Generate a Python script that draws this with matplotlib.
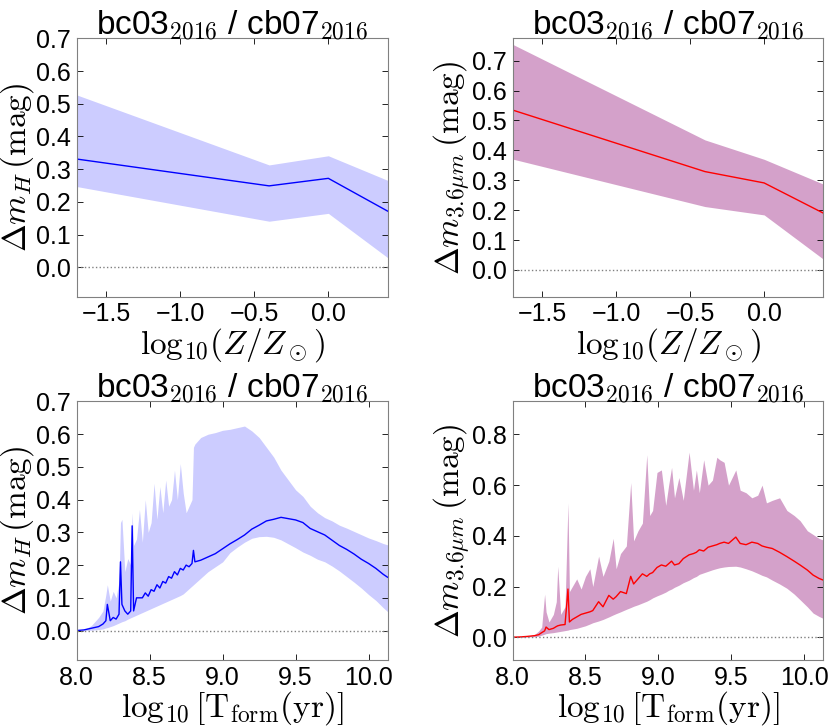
import matplotlib
matplotlib.use("Agg")
import matplotlib.pyplot as plt
from matplotlib.ticker import FuncFormatter
import numpy as np

plt.rcParams['font.family'] = ['Liberation Sans', 'DejaVu Sans']
plt.rcParams['mathtext.fontset'] = 'cm'

# metallicity panels
logz = [-1.7, -0.4, 0.0, 0.4]
h_med = [0.331, 0.249, 0.272, 0.172]
h_hi = [0.527, 0.313, 0.341, 0.266]
h_lo = [0.247, 0.141, 0.165, 0.030]
i1_med = [0.535, 0.329, 0.291, 0.190]
i1_hi = [0.755, 0.435, 0.370, 0.287]
i1_lo = [0.371, 0.212, 0.184, 0.036]

# formation-time panel, H band
t_h = [8.00, 8.05, 8.10, 8.15, 8.18, 8.20, 8.21, 8.23, 8.25, 8.27, 8.29, 8.30,
       8.31, 8.33, 8.35, 8.37, 8.38, 8.39, 8.41, 8.43, 8.45, 8.47, 8.49, 8.51,
       8.53, 8.55, 8.57, 8.59, 8.61, 8.63, 8.65, 8.67, 8.69, 8.71, 8.73, 8.75,
       8.77, 8.79, 8.80, 8.81, 8.85, 8.90, 8.95, 9.00, 9.05, 9.10, 9.15, 9.20,
       9.25, 9.30, 9.35, 9.40, 9.45, 9.50, 9.55, 9.60, 9.65, 9.70, 9.75, 9.80,
       9.85, 9.90, 9.95, 10.00, 10.05, 10.10, 10.13]
th_med = [0.0, 0.002, 0.007, 0.012, 0.02, 0.03, 0.08, 0.03, 0.04, 0.035, 0.05, 0.21,
          0.08, 0.06, 0.05, 0.06, 0.32, 0.06, 0.10, 0.10, 0.10, 0.115, 0.105, 0.125,
          0.12, 0.14, 0.13, 0.15, 0.145, 0.165, 0.16, 0.18, 0.17, 0.19, 0.185, 0.20,
          0.195, 0.205, 0.245, 0.21, 0.215, 0.225, 0.235, 0.25, 0.265, 0.278, 0.292, 0.31,
          0.322, 0.335, 0.34, 0.346, 0.342, 0.338, 0.33, 0.312, 0.302, 0.292, 0.276, 0.26,
          0.248, 0.234, 0.218, 0.205, 0.19, 0.172, 0.163]
th_hi = [0.0, 0.003, 0.015, 0.04, 0.06, 0.11, 0.14, 0.09, 0.12, 0.10, 0.15, 0.33,
         0.34, 0.18, 0.22, 0.20, 0.36, 0.26, 0.28, 0.37, 0.27, 0.40, 0.30, 0.33,
         0.45, 0.34, 0.44, 0.36, 0.46, 0.38, 0.40, 0.49, 0.40, 0.51, 0.42, 0.36,
         0.38, 0.40, 0.56, 0.57, 0.59, 0.60, 0.605, 0.612, 0.615, 0.62, 0.625, 0.61,
         0.59, 0.56, 0.53, 0.49, 0.46, 0.43, 0.41, 0.38, 0.36, 0.345, 0.335, 0.322,
         0.313, 0.303, 0.293, 0.283, 0.275, 0.266, 0.262]
th_lo = [0.0, 0.0, 0.001, 0.003, 0.005, 0.008, 0.009, 0.012, 0.015, 0.019, 0.023, 0.025,
         0.027, 0.03, 0.035, 0.039, 0.041, 0.043, 0.047, 0.051, 0.055, 0.059, 0.063, 0.067,
         0.071, 0.075, 0.079, 0.083, 0.087, 0.091, 0.095, 0.099, 0.103, 0.107, 0.112, 0.12,
         0.128, 0.136, 0.14, 0.144, 0.16, 0.18, 0.195, 0.21, 0.238, 0.255, 0.27, 0.282,
         0.287, 0.288, 0.285, 0.277, 0.265, 0.253, 0.24, 0.23, 0.218, 0.21, 0.197, 0.182,
         0.165, 0.148, 0.13, 0.11, 0.092, 0.07, 0.058]

# formation-time panel, 3.6 micron
t_i1 = [8.00, 8.05, 8.10, 8.15, 8.18, 8.20, 8.22, 8.23, 8.25, 8.28, 8.30, 8.31,
        8.33, 8.36, 8.38, 8.39, 8.41, 8.44, 8.47, 8.50, 8.53, 8.55, 8.59, 8.62,
        8.66, 8.69, 8.71, 8.74, 8.78, 8.81, 8.83, 8.86, 8.89, 8.92, 8.94, 8.96,
        8.99, 9.02, 9.05, 9.07, 9.09, 9.11, 9.14, 9.17, 9.21, 9.24, 9.26, 9.28,
        9.31, 9.34, 9.37, 9.40, 9.42, 9.45, 9.48, 9.53, 9.56, 9.60, 9.64, 9.68,
        9.71, 9.74, 9.78, 9.83, 9.88, 9.93, 9.97, 10.02, 10.06, 10.10, 10.13]
ti1_med = [0.0, 0.001, 0.003, 0.006, 0.01, 0.018, 0.025, 0.04, 0.03, 0.035, 0.042, 0.045,
           0.048, 0.05, 0.19, 0.06, 0.07, 0.08, 0.09, 0.095, 0.10, 0.105, 0.14, 0.12,
           0.165, 0.15, 0.16, 0.18, 0.172, 0.24, 0.21, 0.23, 0.25, 0.24, 0.25, 0.255,
           0.275, 0.285, 0.28, 0.29, 0.30, 0.285, 0.29, 0.31, 0.325, 0.33, 0.335, 0.345,
           0.34, 0.355, 0.36, 0.365, 0.37, 0.375, 0.37, 0.395, 0.37, 0.365, 0.375, 0.37,
           0.36, 0.355, 0.35, 0.335, 0.318, 0.30, 0.285, 0.265, 0.245, 0.232, 0.225]
ti1_hi = [0.0, 0.002, 0.004, 0.01, 0.025, 0.04, 0.17, 0.10, 0.06, 0.09, 0.14, 0.28,
          0.09, 0.12, 0.53, 0.18, 0.20, 0.23, 0.19, 0.24, 0.27, 0.20, 0.32, 0.24,
          0.30, 0.39, 0.27, 0.33, 0.36, 0.61, 0.38, 0.42, 0.45, 0.72, 0.48, 0.50,
          0.65, 0.66, 0.52, 0.60, 0.67, 0.55, 0.63, 0.54, 0.73, 0.58, 0.66, 0.57,
          0.70, 0.60, 0.62, 0.71, 0.70, 0.69, 0.60, 0.66, 0.58, 0.57, 0.55, 0.56,
          0.60, 0.53, 0.54, 0.55, 0.50, 0.48, 0.46, 0.42, 0.405, 0.39, 0.383]
ti1_lo = [0.0, 0.0, 0.001, 0.002, 0.004, 0.008, 0.012, 0.014, 0.016, 0.018, 0.02, 0.021,
          0.023, 0.026, 0.028, 0.03, 0.032, 0.035, 0.04, 0.045, 0.052, 0.057, 0.064, 0.07,
          0.08, 0.088, 0.093, 0.10, 0.11, 0.117, 0.122, 0.128, 0.135, 0.142, 0.148, 0.155,
          0.163, 0.17, 0.178, 0.185, 0.19, 0.197, 0.205, 0.215, 0.225, 0.235, 0.24, 0.248,
          0.254, 0.26, 0.266, 0.271, 0.274, 0.277, 0.279, 0.28, 0.277, 0.27, 0.262, 0.252,
          0.244, 0.238, 0.225, 0.21, 0.193, 0.17, 0.148, 0.12, 0.095, 0.082, 0.074]

title = r'bc03$_{2016}$ / cb07$_{2016}$'
ylab_h = r'$\Delta m_{H}\,\mathrm{(mag)}$'
ylab_i1 = r'$\Delta m_{3.6\mu m}\,\mathrm{(mag)}$'
xlab_z = r'$\mathrm{log}_{10}(Z/Z_\odot)$'
xlab_t = r'$\mathrm{log}_{10}\,[\mathrm{T_{form}(yr)}]$'

blue_fill = '#ccccff'
purple_fill = '#d4a1ca'

fig, axs = plt.subplots(2, 2, figsize=(8.3, 7.28), dpi=100)
fig.subplots_adjust(left=0.0924, right=0.992, bottom=0.0934, top=0.9474,
                    wspace=0.402, hspace=0.405)

panels = [
    (axs[0, 0], logz, h_med, h_lo, h_hi, 'blue', blue_fill, ylab_h, xlab_z),
    (axs[0, 1], logz, i1_med, i1_lo, i1_hi, 'red', purple_fill, ylab_i1, xlab_z),
    (axs[1, 0], t_h, th_med, th_lo, th_hi, 'blue', blue_fill, ylab_h, xlab_t),
    (axs[1, 1], t_i1, ti1_med, ti1_lo, ti1_hi, 'red', purple_fill, ylab_i1, xlab_t),
]

fmt = FuncFormatter(lambda v, p: f'{v:.1f}'.replace('-', '\u2212'))

for ax, x, med, lo, hi, lc, fc, ylab, xlab in panels:
    ax.fill_between(x, lo, hi, color=fc, lw=0)
    ax.plot(x, med, color=lc, lw=1)
    ax.axhline(0, ls=':', color='gray', lw=1)
    ax.set_title(title, fontsize=24, pad=3)
    ax.set_ylabel(ylab, fontsize=24, labelpad=0)
    ax.set_xlabel(xlab, fontsize=24, labelpad=0)
    ax.tick_params(direction='in', top=True, right=True, labelsize=18, length=4,
                   width=0.6, pad=4)
    for s in ax.spines.values():
        s.set_color('gray')
        s.set_linewidth(0.8)

axs[0, 0].set_xlim(-1.7, 0.4)
axs[0, 0].set_ylim(-0.09, 0.7)
axs[0, 1].set_xlim(-1.7, 0.4)
axs[0, 1].set_ylim(-0.09, 0.775)
axs[1, 0].set_xlim(8.0, 10.13)
axs[1, 0].set_ylim(-0.09, 0.7)
axs[1, 1].set_xlim(8.0, 10.13)
axs[1, 1].set_ylim(-0.09, 0.93)

for ax in axs[0]:
    ax.set_xticks([-1.5, -1.0, -0.5, 0.0])
for ax in axs[1]:
    ax.set_xticks([8.0, 8.5, 9.0, 9.5, 10.0])
for ax in [axs[0, 0], axs[0, 1], axs[1, 0]]:
    ax.set_yticks(np.arange(0, 0.71, 0.1))
axs[1, 1].set_yticks([0.0, 0.2, 0.4, 0.6, 0.8])
for ax in axs.flat:
    ax.xaxis.set_major_formatter(fmt)
    ax.yaxis.set_major_formatter(fmt)

fig.savefig('out.png', dpi=100)
